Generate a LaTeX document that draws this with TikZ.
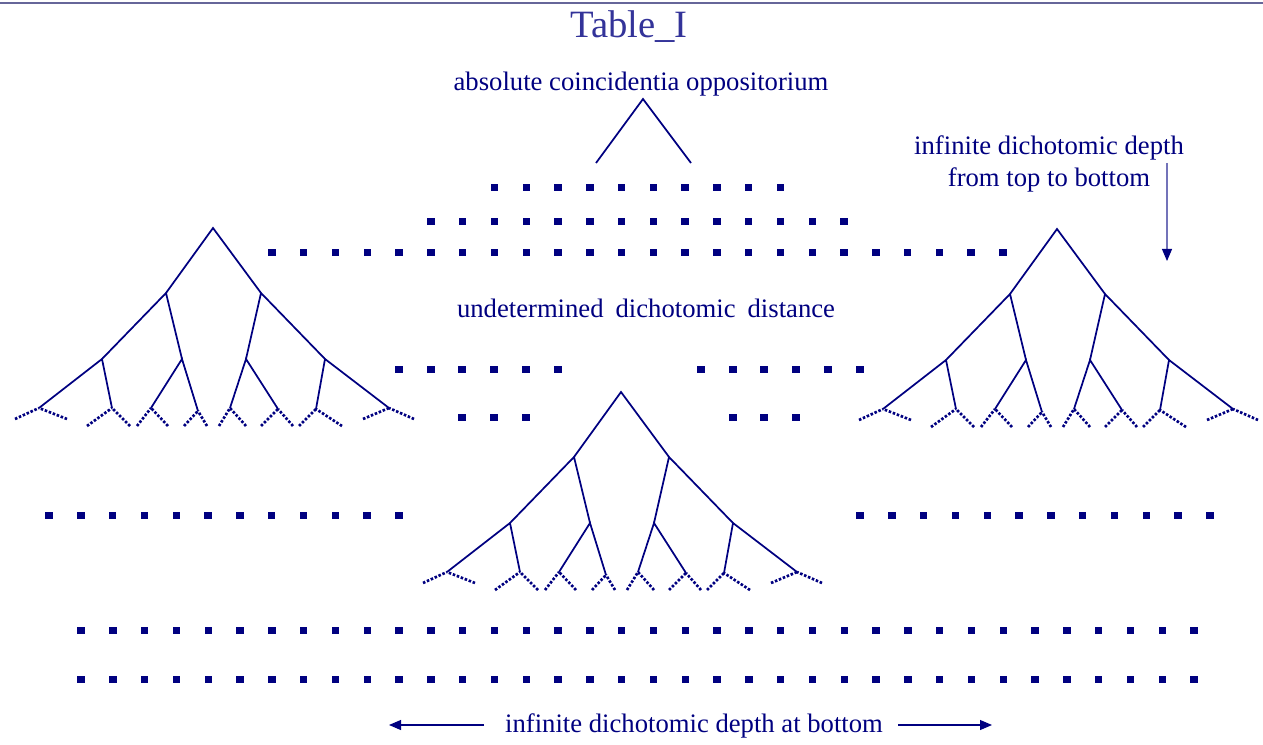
\documentclass[tikz,border=0pt]{standalone}
\usepackage{fontspec}
\setmainfont{Liberation Serif}
\usetikzlibrary{arrows.meta}
\definecolor{navy}{RGB}{0,0,128}
\definecolor{slate}{RGB}{51,51,153}
\definecolor{rulecol}{RGB}{102,102,153}
\newcommand\dotsq[2]{\fill[navy] ({#1-3.7},{#2-3.5}) rectangle ++(7.4,7);}
\begin{document}
\begin{tikzpicture}[x=0.75pt,y=-0.75pt,
  branch/.style={navy, line width=1.3pt},
  leaf/.style={navy, line width=2pt, dash pattern=on 1.9pt off 1.3pt},
  lbl/.style={text=navy, font=\fontsize{20}{24}\selectfont, inner sep=0pt},
  arr/.style={navy, line width=0.8pt, -{Triangle[length=9pt,width=7.5pt]}},
  dtree/.pic={
    \coordinate (-a) at (0,0);
    \coordinate (-l) at (-47,65);
    \coordinate (-r) at (48,65);
    \coordinate (-ll) at (-111,131);
    \coordinate (-lr) at (-31,131);
    \coordinate (-rl) at (33,131);
    \coordinate (-rr) at (112,131);
    \coordinate (-n0) at (-174,180);
    \coordinate (-n1) at (-101,180);
    \coordinate (-n2) at (-62,180);
    \coordinate (-n3) at (-15,183);
    \coordinate (-n4) at (17,180);
    \coordinate (-n5) at (65,181);
    \coordinate (-n6) at (103,181);
    \coordinate (-n7) at (176,180);
    \coordinate (-n0a) at (-198,191); \coordinate (-n0b) at (-146,191);
    \coordinate (-n1a) at (-126,198); \coordinate (-n1b) at (-83,198);
    \coordinate (-n2a) at (-76,198);  \coordinate (-n2b) at (-45,198);
    \coordinate (-n3a) at (-29,198);  \coordinate (-n3b) at (-6,198);
    \coordinate (-n4a) at (6,198);    \coordinate (-n4b) at (33,198);
    \coordinate (-n5a) at (48,198);   \coordinate (-n5b) at (80,198);
    \coordinate (-n6a) at (86,198);   \coordinate (-n6b) at (129,198);
    \coordinate (-n7a) at (150,191);  \coordinate (-n7b) at (201,191);
    \draw[branch] (-l) -- (-a) -- (-r);
    \draw[branch] (-ll) -- (-l) -- (-lr);
    \draw[branch] (-rl) -- (-r) -- (-rr);
    \draw[branch] (-n0) -- (-ll) -- (-n1);
    \draw[branch] (-n2) -- (-lr) -- (-n3);
    \draw[branch] (-n4) -- (-rl) -- (-n5);
    \draw[branch] (-n6) -- (-rr) -- (-n7);
    \foreach \i in {0,...,7}{
      \draw[leaf] (-n\i a) -- (-n\i);
      \draw[leaf] (-n\i b) -- (-n\i);
    }
  }
]
\useasboundingbox (0,0) rectangle (1263,745);
% top rule
\draw[rulecol, line width=2pt] (0,3) -- (1263,3);
% title
\node[text=slate, font=\fontsize{29}{33}\selectfont, inner sep=0pt, anchor=base] (title) at (629,38) {Table\_I};
% top label and its little fork
\node[lbl, anchor=base] (aco) at (641,91) {absolute coincidentia oppositorium};
\coordinate (fa) at (643,99);
\coordinate (fl) at (596,163);
\coordinate (fr) at (691,163);
\draw[branch] (fl) -- (fa) -- (fr);
% right label + arrow
\node[lbl, anchor=base] (idd1) at (1049,155) {infinite dichotomic depth};
\node[lbl, anchor=base] (idd2) at (1049,187) {from top to bottom};
\coordinate (vs) at (1167,163);
\coordinate (ve) at (1167,261);
\draw[navy!55, line width=0.9pt, -{Triangle[length=9pt,width=7.5pt,color=navy]}] (vs) -- (ve);
% middle label
\node[lbl, anchor=base] (udd) at (646,317) {undetermined\hspace{0.45em}dichotomic\hspace{0.45em}distance};
% bottom label + arrows
\node[lbl, anchor=base] (bot) at (694,732) {infinite dichotomic depth at bottom};
\coordinate (bl1) at (484,725); \coordinate (bl2) at (389,725);
\coordinate (br1) at (898,725); \coordinate (br2) at (992,725);
\draw[arr] (bl1) -- (bl2);
\draw[arr] (br1) -- (br2);
% trees
\pic (TL) at (213,228) {dtree};
\pic (TR) at (1057,229) {dtree};
\pic (TM) at (621,392) {dtree};
% dot rows
\foreach \k in {7,...,16} {\dotsq{272+31.78*\k}{188}}
\foreach \k in {5,...,18} {\dotsq{272+31.78*\k}{222}}
\foreach \k in {0,...,23} {\dotsq{272+31.78*\k}{253}}
\foreach \x in {399,431,462,494,526,558,701,733,764,796,828,860} {\dotsq{\x}{369}}
\foreach \x in {462,494,526,733,764,796} {\dotsq{\x}{417}}
\foreach \k in {0,...,11} {\dotsq{49+31.8*\k}{515} \dotsq{860+31.8*\k}{515}}
\foreach \k in {0,...,35} {\dotsq{81+31.8*\k}{630} \dotsq{81+31.8*\k}{679}}
\end{tikzpicture}
\end{document}
